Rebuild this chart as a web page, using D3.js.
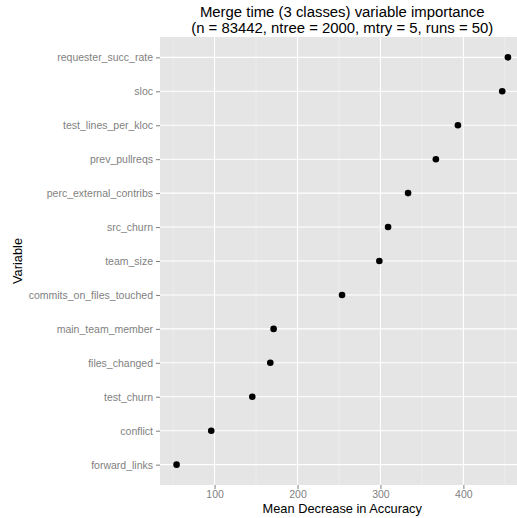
<!DOCTYPE html>
<html>
<head>
<meta charset="utf-8">
<script src="https://cdn.jsdelivr.net/npm/d3@7"></script>
<style>
  body { margin: 0; background: #fff; }
  svg { display: block; font-family: "Liberation Sans", Arial, Helvetica, sans-serif; }
</style>
</head>
<body>
<svg id="chart" width="517" height="518"></svg>
<script>
const W = 517, H = 518;

// variables, top to bottom
const variables = [
  "requester_succ_rate", "sloc", "test_lines_per_kloc", "prev_pullreqs",
  "perc_external_contribs", "src_churn", "team_size", "commits_on_files_touched",
  "main_team_member", "files_changed", "test_churn", "conflict", "forward_links"
];
const importance = [453.7, 446.8, 393.4, 366.8, 333.3, 309.2, 298.7, 253.7, 171.2, 167.2, 145.5, 96, 54.2];
const majorTicks = [100, 200, 300, 400];
const minorTicks = [50, 150, 250, 350, 450];

const panel = { left: 160, top: 37, bottom: 485 };

const svg = d3.select("#chart");

// ggplot style 5% expansion of the continuous range
const lo = d3.min(importance), hi = d3.max(importance);
const pad = (hi - lo) * 0.05;
const x = d3.scaleLinear()
  .domain([lo - pad, hi + pad])
  .range([panel.left, panel.left + 364.5]);

// discrete axis: 0.6 unit expansion on each side
const step = (panel.bottom - panel.top) / (variables.length - 1 + 1.2);
const y = d3.scalePoint()
  .domain(variables)
  .range([panel.top + 0.6 * step, panel.bottom - 0.6 * step]);

const panelRight = x.range()[1];

svg.append("rect")
  .attr("x", panel.left).attr("y", panel.top)
  .attr("width", panelRight - panel.left).attr("height", panel.bottom - panel.top)
  .attr("fill", "#e5e5e5");

const grid = svg.append("g");
grid.selectAll(".minor").data(minorTicks).enter().append("line")
  .attr("x1", d => x(d)).attr("x2", d => x(d))
  .attr("y1", panel.top).attr("y2", panel.bottom)
  .attr("stroke", "#f2f2f2").attr("stroke-width", 0.6);
grid.selectAll(".majorx").data(majorTicks).enter().append("line")
  .attr("x1", d => x(d)).attr("x2", d => x(d))
  .attr("y1", panel.top).attr("y2", panel.bottom)
  .attr("stroke", "#fff").attr("stroke-width", 1.1);
grid.selectAll(".majory").data(variables).enter().append("line")
  .attr("x1", panel.left).attr("x2", panelRight)
  .attr("y1", d => y(d)).attr("y2", d => y(d))
  .attr("stroke", "#fff").attr("stroke-width", 1.1);

// points
svg.append("g").selectAll("circle")
  .data(variables.map((v, i) => ({ v, val: importance[i] })))
  .enter().append("circle")
  .attr("cx", d => x(d.val)).attr("cy", d => y(d.v))
  .attr("r", 3.3).attr("fill", "#000");

// axes
const xAxis = svg.append("g")
  .attr("transform", `translate(0,${panel.bottom})`)
  .call(d3.axisBottom(x).tickValues(majorTicks).tickSize(4).tickPadding(2));
const yAxis = svg.append("g")
  .attr("transform", `translate(${panel.left},0)`)
  .call(d3.axisLeft(y).tickSize(4).tickPadding(3));

[xAxis, yAxis].forEach(a => {
  a.select(".domain").remove();
  a.selectAll(".tick line").attr("stroke", "#7f7f7f");
  a.selectAll(".tick text").attr("fill", "#7f7f7f")
    .style("font-size", "10.5px").style("font-family", "Liberation Sans, Arial, sans-serif");
});

// titles
const title = svg.append("text")
  .attr("text-anchor", "middle")
  .attr("x", (panel.left + panelRight) / 2)
  .style("font-size", "14.9px").attr("fill", "#000");
title.append("tspan").attr("x", (panel.left + panelRight) / 2).attr("y", 17)
  .text("Merge time (3 classes) variable importance");
title.append("tspan").attr("x", (panel.left + panelRight) / 2).attr("y", 32.5)
  .text("(n = 83442, ntree = 2000, mtry = 5, runs = 50)");

svg.append("text")
  .attr("text-anchor", "middle")
  .attr("x", (panel.left + panelRight) / 2).attr("y", 513)
  .style("font-size", "12.8px")
  .text("Mean Decrease in Accuracy");

svg.append("text")
  .attr("text-anchor", "middle")
  .attr("transform", `translate(22,${(panel.top + panel.bottom) / 2}) rotate(-90)`)
  .style("font-size", "12.8px")
  .text("Variable");
</script>
</body>
</html>
